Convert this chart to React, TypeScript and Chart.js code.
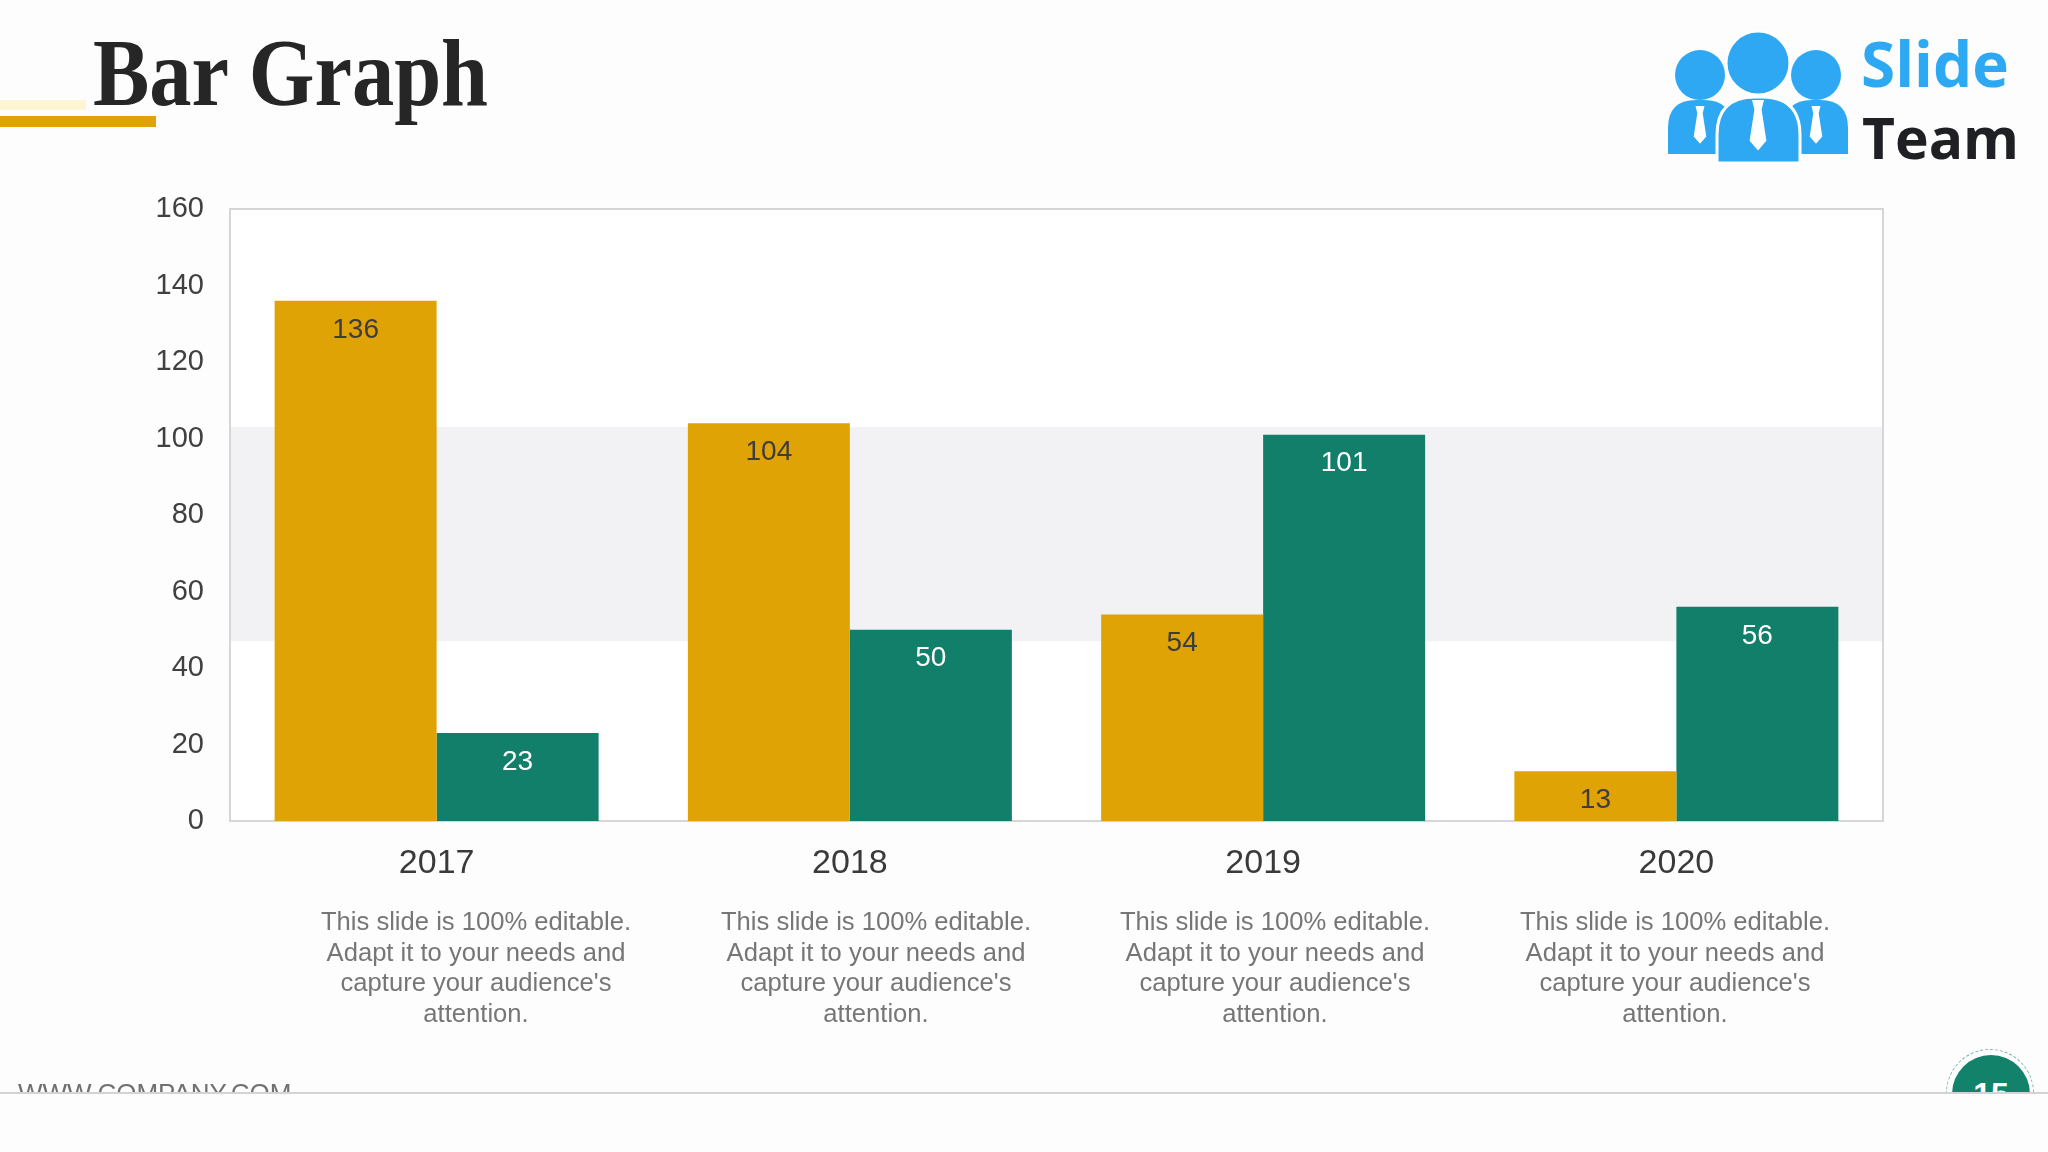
import React, { useEffect, useRef } from "react";
import { Chart, registerables } from "chart.js";

Chart.register(...registerables);

const categories = ["2017", "2018", "2019", "2020"];
const goldValues = [136, 104, 54, 13];
const greenValues = [23, 50, 101, 56];
const yMin = 0;
const yMax = 160;
const yStep = 20;
const bandRange = [47, 103];
const descriptionLines = [
  "This slide is 100% editable.",
  "Adapt it to your needs and",
  "capture your audience's",
  "attention.",
];
const descriptionCenters = [476, 876, 1275, 1675];

const GOLD = "#E0A306";
const GREEN = "#117F69";
const SANS = "'Liberation Sans', Arial, sans-serif";

const plotDecor = {
  id: "plotDecor",
  beforeDatasetsDraw(chart: any) {
    const { ctx, chartArea } = chart;
    const y = chart.scales.y;
    ctx.save();
    ctx.fillStyle = "#FFFFFF";
    ctx.fillRect(chartArea.left, chartArea.top, chartArea.right - chartArea.left, chartArea.bottom - chartArea.top);
    const yTop = y.getPixelForValue(bandRange[1]);
    const yBot = y.getPixelForValue(bandRange[0]);
    ctx.fillStyle = "#F2F1F4";
    ctx.fillRect(chartArea.left, yTop, chartArea.right - chartArea.left, yBot - yTop);
    ctx.strokeStyle = "#D6D6D9";
    ctx.lineWidth = 2;
    ctx.strokeRect(chartArea.left, chartArea.top, chartArea.right - chartArea.left, chartArea.bottom - chartArea.top);
    ctx.restore();
  },
};

const valueLabels = {
  id: "valueLabels",
  afterDatasetsDraw(chart: any) {
    const { ctx } = chart;
    ctx.save();
    ctx.font = `28px ${SANS}`;
    ctx.textAlign = "center";
    ctx.textBaseline = "middle";
    chart.data.datasets.forEach((ds: any, i: number) => {
      const meta = chart.getDatasetMeta(i);
      meta.data.forEach((el: any, j: number) => {
        ctx.fillStyle = i === 0 ? "#3D3D3D" : "#FFFFFF";
        ctx.fillText(String(ds.data[j]), el.x, el.y + 29);
      });
    });
    ctx.restore();
  },
};

function BarChart() {
  const ref = useRef<HTMLCanvasElement | null>(null);
  useEffect(() => {
    if (!ref.current) return;
    const chart = new Chart(ref.current, {
      type: "bar",
      data: {
        labels: categories,
        datasets: [
          {
            data: goldValues,
            backgroundColor: GOLD,
            borderWidth: 0,
            categoryPercentage: 0.784,
            barPercentage: 1.0,
          },
          {
            data: greenValues,
            backgroundColor: GREEN,
            borderWidth: 0,
            categoryPercentage: 0.784,
            barPercentage: 1.0,
          },
        ],
      },
      options: {
        animation: false,
        responsive: false,
        maintainAspectRatio: false,
        layout: { padding: { left: 130, top: 209, right: 165, bottom: 251 } },
        plugins: { legend: { display: false }, tooltip: { enabled: false } },
        scales: {
          x: {
            grid: { display: false, drawTicks: false },
            border: { display: false },
            ticks: { font: { family: SANS, size: 34 }, color: "#3A3A3A", padding: 22 },
            afterFit: (s: any) => {
              s.height = 80;
            },
          },
          y: {
            min: yMin,
            max: yMax,
            ticks: { stepSize: yStep, font: { family: SANS, size: 29 }, color: "#404040", padding: 26 },
            grid: { display: false, drawTicks: false },
            border: { display: false },
            afterFit: (s: any) => {
              s.width = 100;
            },
          },
        },
      },
      plugins: [plotDecor, valueLabels],
    } as any);
    return () => chart.destroy();
  }, []);
  return (
    <canvas
      ref={ref}
      width={2048}
      height={1152}
      style={{ position: "absolute", left: 0, top: 0, width: 2048, height: 1152 }}
    />
  );
}

function Logo() {
  const blue = "#2EA8F3";
  const tie = (cx: number, y0: number, s: number) =>
    `M${cx - 5 * s},${y0} L${cx + 5 * s},${y0} L${cx + 3 * s},${y0 + 8 * s} L${cx + 7 * s},${y0 + 34 * s} L${cx},${y0 + 42 * s} L${cx - 7 * s},${y0 + 34 * s} L${cx - 3 * s},${y0 + 8 * s} Z`;
  return (
    <svg
      width={210}
      height={150}
      viewBox="0 0 210 150"
      style={{ position: "absolute", left: 1650, top: 20 }}
    >
      <path d="M18,134 L18,108 Q18,80 46,80 L54,80 Q82,80 82,108 L82,134 Z" fill={blue} />
      <path d="M134,134 L134,108 Q134,80 162,80 L170,80 Q198,80 198,108 L198,134 Z" fill={blue} />
      <circle cx={50} cy={55} r={25} fill={blue} />
      <circle cx={166} cy={55} r={25} fill={blue} />
      <path d={tie(50, 86, 0.9)} fill="#FFFFFF" />
      <path d={tie(166, 86, 0.9)} fill="#FFFFFF" />
      <path
        d="M67,143 L67,115 Q67,77 105,77 L112,77 Q150,77 150,115 L150,143 Z"
        fill={blue}
        stroke="#FFFFFF"
        strokeWidth={3}
      />
      <circle cx={108} cy={43} r={32} fill={blue} stroke="#FFFFFF" strokeWidth={3} />
      <path d={tie(108, 80, 1.2)} fill="#FFFFFF" />
    </svg>
  );
}

export default function App() {
  return (
    <div
      style={{
        position: "relative",
        width: 2048,
        height: 1152,
        overflow: "hidden",
        background: "#FDFDFE",
        fontFamily: SANS,
      }}
    >
      <style>{`html,body{margin:0;padding:0;background:#FDFDFE;}`}</style>
      <div style={{ position: "absolute", left: 0, top: 100, width: 86, height: 10, background: "#FFF4D4" }} />
      <div style={{ position: "absolute", left: 0, top: 116, width: 156, height: 11, background: GOLD }} />
      <div
        style={{
          position: "absolute",
          left: 93,
          top: 25,
          fontFamily: "'Liberation Serif', 'Times New Roman', serif",
          fontWeight: 700,
          fontSize: 96,
          lineHeight: "96px",
          color: "#262626",
          whiteSpace: "nowrap",
          transform: "scaleX(0.88)",
          transformOrigin: "left top",
        }}
      >
        Bar Graph
      </div>
      <Logo />
      <div
        style={{
          position: "absolute",
          left: 1861,
          top: 32,
          fontFamily: "'Open Sans', sans-serif",
          fontWeight: 700,
          fontSize: 62,
          lineHeight: "62px",
          color: "#2DA8F2",
          whiteSpace: "nowrap",
        }}
      >
        Slide
      </div>
      <div
        style={{
          position: "absolute",
          left: 1862,
          top: 107,
          fontFamily: "'Open Sans', sans-serif",
          fontWeight: 700,
          fontSize: 57,
          lineHeight: "60px",
          color: "#1F2023",
          whiteSpace: "nowrap",
        }}
      >
        Team
      </div>
      <BarChart />
      {descriptionCenters.map((cx, i) => (
        <div
          key={i}
          style={{
            position: "absolute",
            left: cx - 220,
            width: 440,
            top: 906,
            textAlign: "center",
            fontSize: 25.6,
            lineHeight: "30.5px",
            color: "#767676",
          }}
        >
          {descriptionLines.map((l, k) => (
            <div key={k}>{l}</div>
          ))}
        </div>
      ))}
      <div
        style={{
          position: "absolute",
          left: 18,
          top: 1080,
          fontSize: 26,
          lineHeight: "26px",
          color: "#707070",
          whiteSpace: "nowrap",
        }}
      >
        WWW.COMPANY.COM
      </div>
      <div
        style={{
          position: "absolute",
          left: 1946,
          top: 1049,
          width: 88,
          height: 88,
          borderRadius: "50%",
          border: "1.5px dashed #6FB5A7",
          boxSizing: "border-box",
        }}
      />
      <div
        style={{
          position: "absolute",
          left: 1952,
          top: 1055,
          width: 78,
          height: 78,
          borderRadius: "50%",
          background: "#12826B",
        }}
      />
      <div
        style={{
          position: "absolute",
          left: 1952,
          top: 1078,
          width: 78,
          textAlign: "center",
          fontSize: 32,
          lineHeight: "32px",
          fontWeight: 700,
          color: "#FFFFFF",
        }}
      >
        15
      </div>
      <div
        style={{
          position: "absolute",
          left: 0,
          top: 1092,
          width: 2048,
          height: 60,
          background: "#FDFDFE",
          borderTop: "2px solid #D3D3D6",
        }}
      />
    </div>
  );
}
